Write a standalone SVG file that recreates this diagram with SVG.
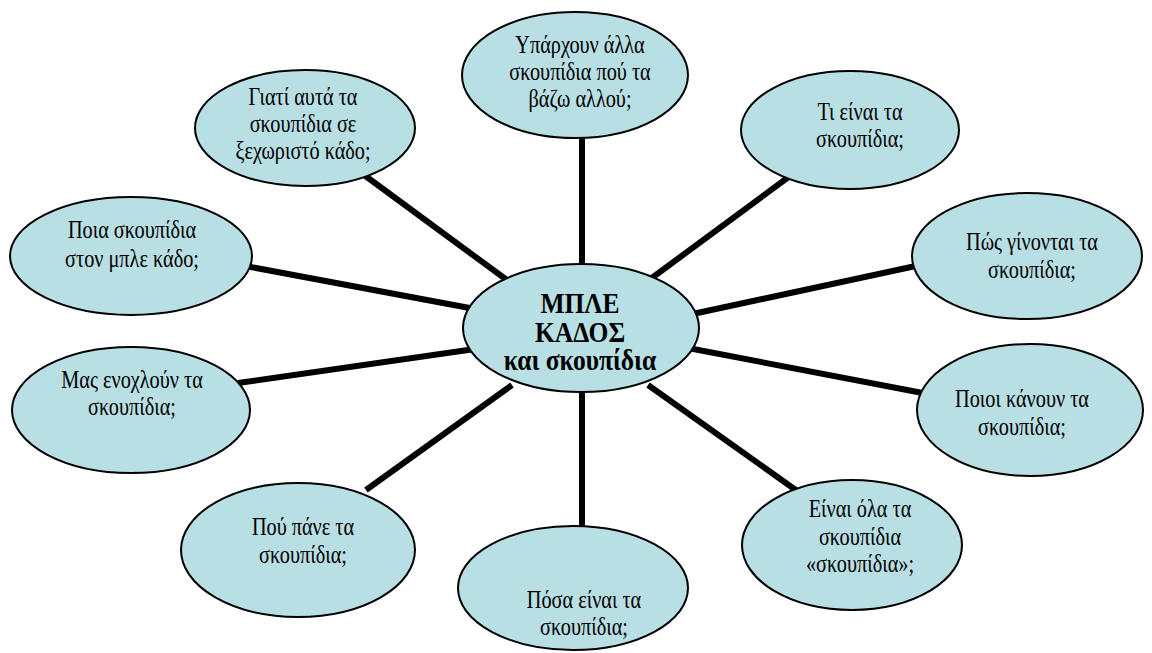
<svg xmlns="http://www.w3.org/2000/svg" width="1152" height="653" viewBox="0 0 1152 653">
<style>
.n{fill:#B8DFE3;stroke:#000;stroke-width:2}
.t{font-size:26px;fill:#000;text-anchor:middle}
.c{font-size:29px;font-weight:bold;fill:#000;text-anchor:middle}
.l{stroke:#000;stroke-width:6;stroke-linecap:butt;fill:none}
</style>
<rect width="1152" height="653" fill="#fff"/>
<g id="connectors">
<line class="l" x1="582" y1="130" x2="582" y2="280"/>
<line class="l" x1="360" y1="172" x2="515" y2="286"/>
<line class="l" x1="794" y1="173" x2="645" y2="283"/>
<line class="l" x1="240" y1="265" x2="475" y2="309"/>
<line class="l" x1="925" y1="264" x2="688" y2="315"/>
<line class="l" x1="238" y1="383" x2="475" y2="349"/>
<line class="l" x1="928" y1="394" x2="688" y2="348"/>
<line class="l" x1="366" y1="490" x2="512" y2="385"/>
<line class="l" x1="800" y1="493" x2="648" y2="385"/>
<line class="l" x1="582" y1="380" x2="582" y2="532"/>
</g>
<g font-family="Liberation Serif, DejaVu Serif, serif">
<g id="n-top">
<ellipse class="n" cx="575" cy="75" rx="113" ry="63"/>
<text class="t" transform="translate(580 0) scale(0.78 1)"><tspan x="0" y="53">Υπάρχουν άλλα</tspan><tspan x="0" y="80">σκουπίδια πού τα</tspan><tspan x="0" y="107">βάζω αλλού;</tspan></text>
</g>
<g id="n-topleft">
<ellipse class="n" cx="305" cy="128" rx="110" ry="58"/>
<text class="t" transform="translate(303 0) scale(0.78 1)"><tspan x="0" y="105">Γιατί αυτά τα</tspan><tspan x="0" y="132">σκουπίδια σε</tspan><tspan x="0" y="159">ξεχωριστό κάδο;</tspan></text>
</g>
<g id="n-topright">
<ellipse class="n" cx="850" cy="130" rx="109" ry="59"/>
<text class="t" transform="translate(860 0) scale(0.78 1)"><tspan x="0" y="120">Τι είναι τα</tspan><tspan x="0" y="147">σκουπίδια;</tspan></text>
</g>
<g id="n-left">
<ellipse class="n" cx="131" cy="256" rx="121" ry="59"/>
<text class="t" transform="translate(132 0) scale(0.78 1)"><tspan x="0" y="238">Ποια σκουπίδια</tspan><tspan x="0" y="267">στον μπλε κάδο;</tspan></text>
</g>
<g id="n-right">
<ellipse class="n" cx="1027" cy="256" rx="115" ry="63"/>
<text class="t" transform="translate(1032 0) scale(0.78 1)"><tspan x="0" y="250">Πώς γίνονται τα</tspan><tspan x="0" y="278">σκουπίδια;</tspan></text>
</g>
<g id="n-left2">
<ellipse class="n" cx="131" cy="410" rx="119" ry="63"/>
<text class="t" transform="translate(132 0) scale(0.78 1)"><tspan x="0" y="388">Μας ενοχλούν τα</tspan><tspan x="0" y="415">σκουπίδια;</tspan></text>
</g>
<g id="n-right2">
<ellipse class="n" cx="1030" cy="410" rx="113" ry="66"/>
<text class="t" transform="translate(1022 0) scale(0.78 1)"><tspan x="0" y="407">Ποιοι κάνουν τα</tspan><tspan x="0" y="435">σκουπίδια;</tspan></text>
</g>
<g id="n-bottomleft">
<ellipse class="n" cx="298" cy="550" rx="117" ry="67"/>
<text class="t" transform="translate(303 0) scale(0.78 1)"><tspan x="0" y="535">Πού πάνε τα</tspan><tspan x="0" y="563">σκουπίδια;</tspan></text>
</g>
<g id="n-bottomright">
<ellipse class="n" cx="852" cy="545" rx="110" ry="65"/>
<text class="t" transform="translate(860 0) scale(0.78 1)"><tspan x="0" y="517">Είναι όλα τα</tspan><tspan x="0" y="545">σκουπίδια</tspan><tspan x="0" y="572">«σκουπίδια»;</tspan></text>
</g>
<g id="n-bottom">
<ellipse class="n" cx="573" cy="588" rx="115" ry="62"/>
<text class="t" transform="translate(584 0) scale(0.78 1)"><tspan x="0" y="608">Πόσα είναι τα</tspan><tspan x="0" y="635">σκουπίδια;</tspan></text>
</g>
<g id="n-center">
<ellipse class="n" cx="581" cy="328" rx="118" ry="64"/>
<text class="c" transform="translate(580 0) scale(0.88 1)"><tspan x="0" y="313">ΜΠΛΕ</tspan><tspan x="0" y="342">ΚΑΔΟΣ</tspan><tspan x="0" y="370">και σκουπίδια</tspan></text>
</g>
</g>
</svg>
